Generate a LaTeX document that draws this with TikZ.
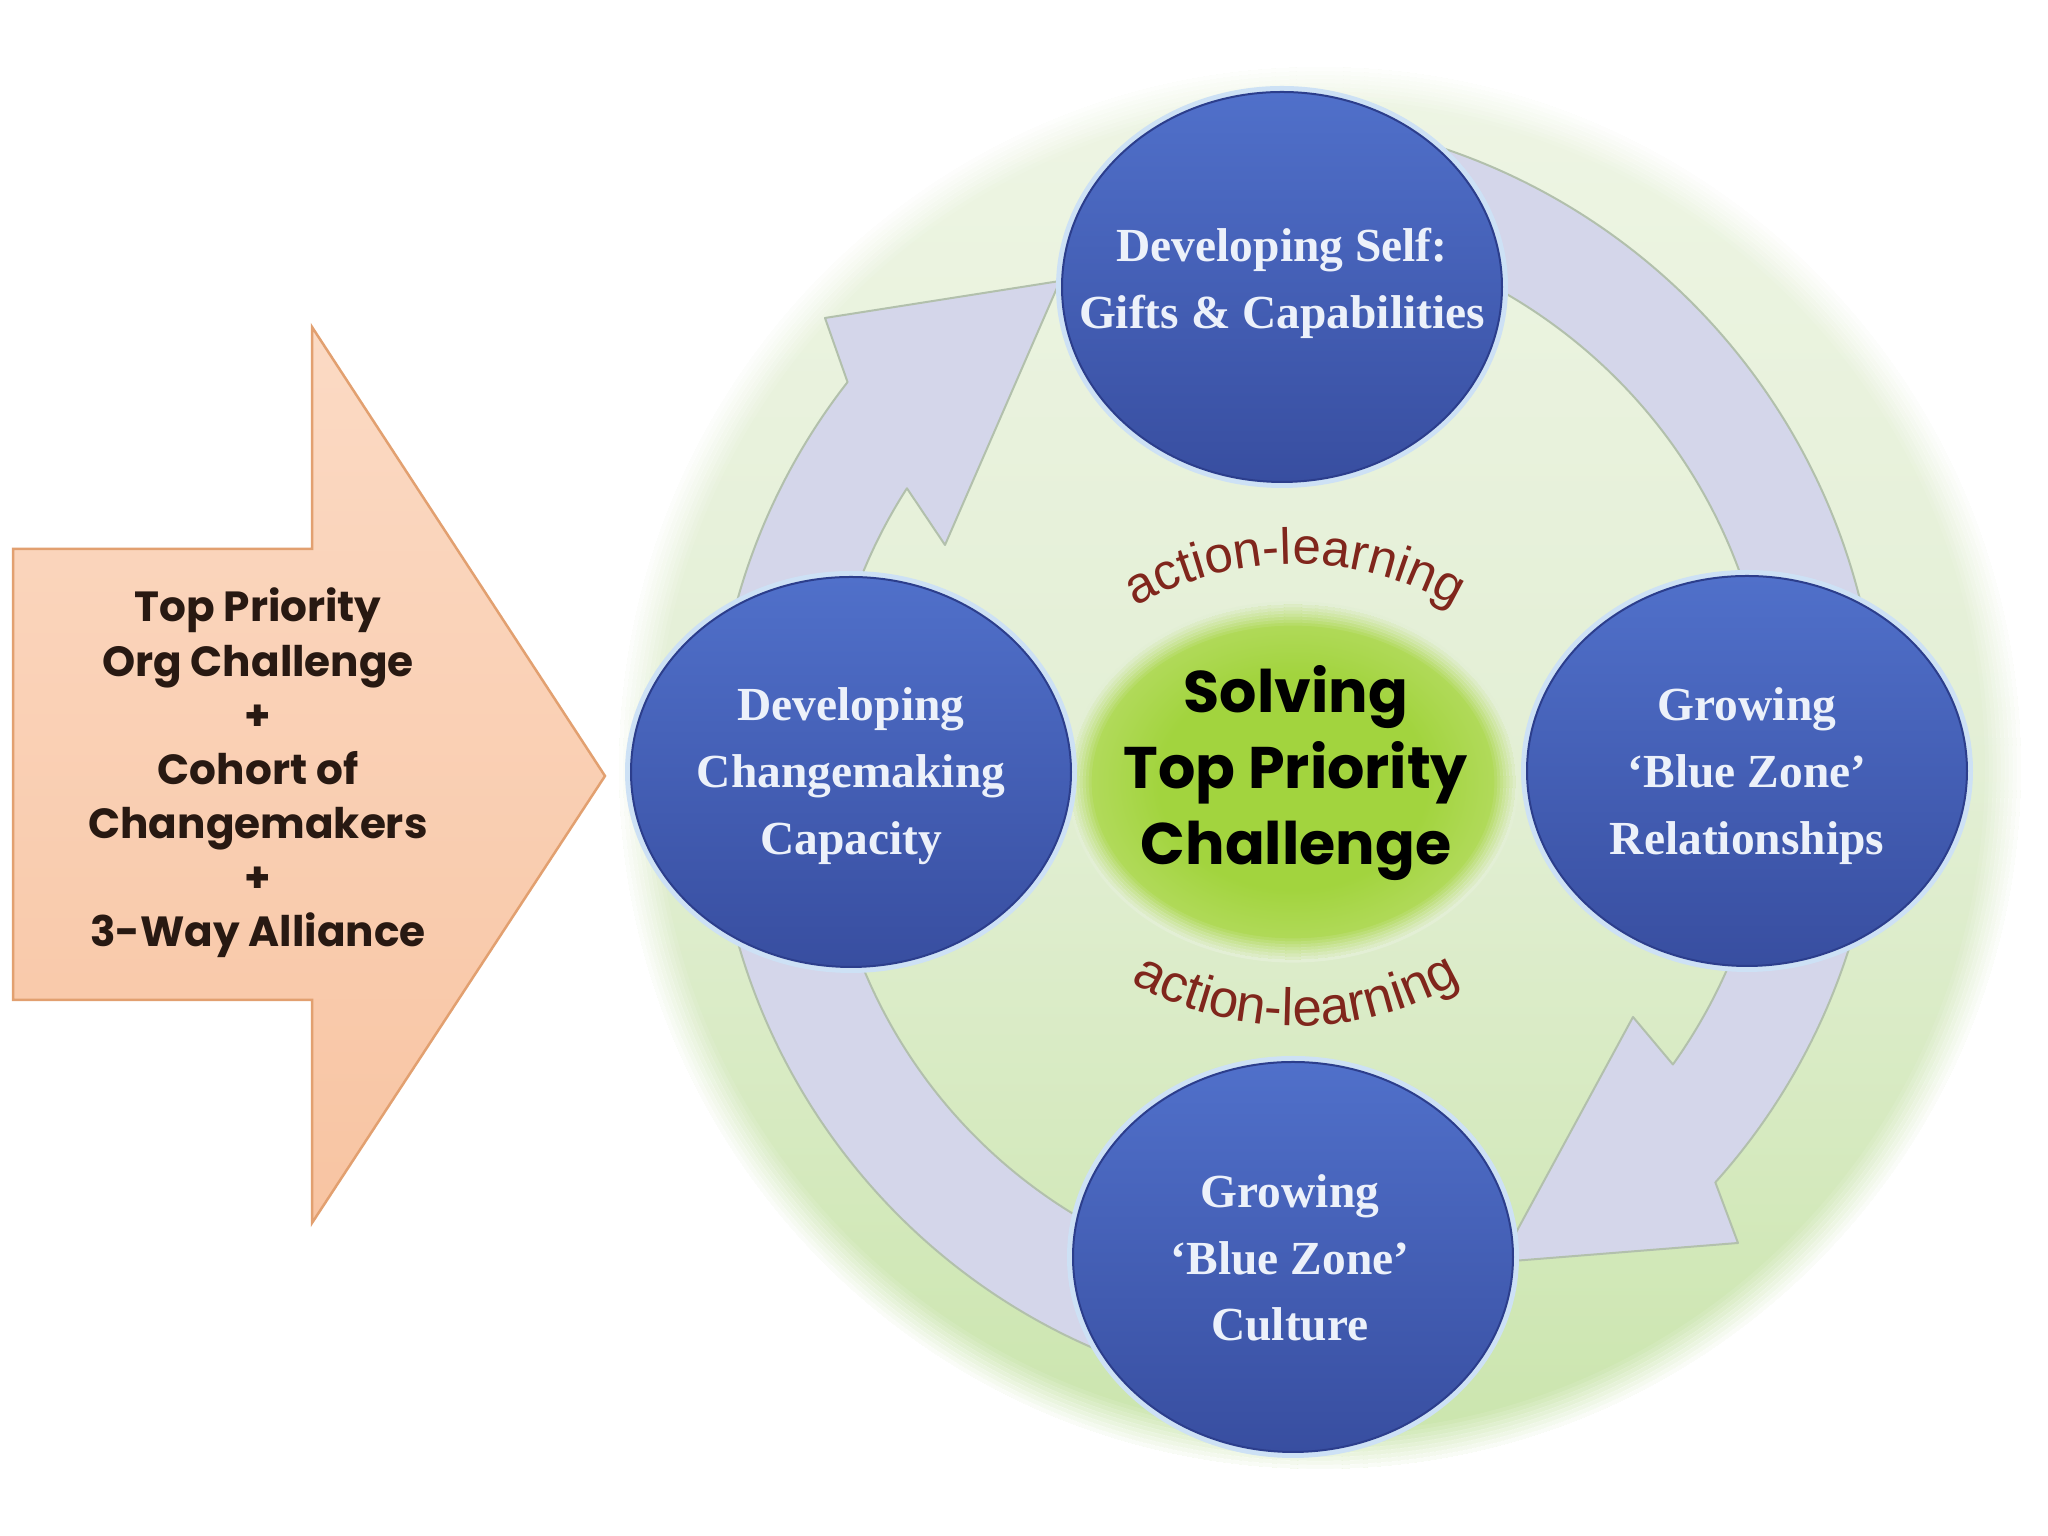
\documentclass[tikz,border=0pt]{standalone}
\usepackage{fontspec}
\usetikzlibrary{decorations.text,shadings}
\newfontfamily\gothicf{Poppins}
\newfontfamily\arialf{Liberation Sans}
\newfontfamily\serifbf{Liberation Serif}

\definecolor{diskTop}{RGB}{238,245,228}
\definecolor{diskMid}{RGB}{227,239,213}
\definecolor{diskBot}{RGB}{202,229,172}
\definecolor{lav}{RGB}{212,214,234}
\definecolor{lavLine}{RGB}{178,192,172}
\definecolor{blueTop}{RGB}{80,112,202}
\definecolor{blueBot}{RGB}{56,78,160}
\definecolor{blueRim}{RGB}{44,62,140}
\definecolor{blueGlow}{RGB}{205,225,245}
\definecolor{limeIn}{RGB}{162,212,62}
\definecolor{limeOut}{RGB}{182,220,100}
\definecolor{alred}{RGB}{128,38,28}
\definecolor{peachTop}{RGB}{251,218,196}
\definecolor{peachBot}{RGB}{248,196,162}
\definecolor{peachLine}{RGB}{226,160,112}
\definecolor{boxtext}{RGB}{40,25,18}
\definecolor{circtext}{RGB}{236,241,250}

\pgfdeclareradialshading{limeshade}{\pgfpointorigin}{color(0bp)=(limeIn); color(15bp)=(limeIn); color(25bp)=(limeOut); color(50bp)=(limeOut)}

\tikzset{
  cyclearrow/.style={fill=lav, draw=lavLine, line width=0.02cm, line join=round},
  bluedisk/.style={top color=blueTop, bottom color=blueBot, draw=blueRim, line width=0.02cm},
  blueglow/.style={fill=blueGlow},
  circtxt/.style={text=circtext, align=center, inner sep=0pt, font=\serifbf\bfseries\fontsize{13.5}{19}\selectfont},
  boxtxt/.style={text=boxtext, align=center, inner sep=0pt, font=\gothicf\bfseries\fontsize{12}{15.4}\selectfont},
  coretxt/.style={text=black, align=center, inner sep=0pt, font=\gothicf\bfseries\fontsize{16.7}{21.6}\selectfont},
  orangearrow/.style={top color=peachTop, bottom color=peachBot, draw=peachLine, line width=0.025cm, line join=miter}
}

\begin{document}
\begin{tikzpicture}
\useasboundingbox (0,0) rectangle (20.48,15.36);
\fill[white] (0,0) rectangle (20.48,15.36);

% big green disk with soft edge
\coordinate (diskC) at (13.20,7.68);
\fill[top color=diskTop, bottom color=diskBot, middle color=diskMid] (diskC) circle (7.02);
\foreach \i in {1,...,10}{
  \pgfmathsetmacro\op{\i/10}
  \draw[white, line width=0.042cm, draw opacity=\op] (diskC) circle ({6.63+0.04*\i});
}

% cycle arrows
\coordinate (Ac) at (13.44,7.66);
\coordinate (Bc) at (12.39,7.81);
\path[cyclearrow] ([shift={(262:6.3)}]Ac) arc[start angle=262, end angle=142.0, radius=6.3]
  -- (8.25,12.18) -- (10.60,12.55) -- (9.45,9.91)
  -- ([shift={(147.2:5.2)}]Ac) arc[start angle=147.2, end angle=262, radius=5.2] -- cycle;
\path[cyclearrow] ([shift={(82:6.4)}]Bc) arc[start angle=82, end angle=-41.9, radius=6.4]
  -- (17.38,2.93) -- (15.00,2.74) -- (16.33,5.19)
  -- ([shift={(-35.5:5.33)}]Bc) arc[start angle=-35.5, end angle=82, radius=5.33] -- cycle;

% centre ellipse with soft edge
\coordinate (coreC) at (12.93,7.54);
\fill[shading=limeshade] (coreC) ellipse [x radius=2.24, y radius=1.79];
\foreach \i in {1,...,8}{
  \pgfmathsetmacro\op{\i/8}
  \draw[diskMid, line width=0.032cm, draw opacity=\op] (coreC) ellipse [x radius={2.0+0.03*\i}, y radius={1.55+0.03*\i}];
}
\node[coretxt] (core) at (12.96,7.63) {Solving\\Top Priority\\Challenge};

% action-learning arcs
\coordinate (topArcC) at (12.95,6.57);
\coordinate (botArcC) at (12.96,8.40);
\path[decorate, decoration={text along path, text align=center, text color=alred,
  text={|\arialf\fontsize{14.5}{17}\selectfont|action-learning}}]
  ([shift={(150:3.15)}]topArcC) arc[start angle=150, end angle=30, radius=3.15];
\path[decorate, decoration={text along path, text align=center, text color=alred,
  text={|\arialf\fontsize{15}{17}\selectfont|action-learning}}]
  ([shift={(210:3.3)}]botArcC) arc[start angle=210, end angle=330, radius=3.3];

% blue circles
\foreach \cx/\cy in {12.82/12.49, 8.51/7.64, 17.47/7.65, 12.93/2.79}{
  \fill[blueglow] (\cx,\cy) ellipse [x radius=2.26, y radius=2.01];
  \path[bluedisk] (\cx,\cy) ellipse [x radius=2.2, y radius=1.95];
}
\node[circtxt] (self) at (12.82,12.53) {Developing Self:\\Gifts \& Capabilities};
\node[circtxt] (capacity) at (8.51,7.60) {Developing\\Changemaking\\Capacity};
\node[circtxt] (relations) at (17.47,7.60) {Growing\\‘Blue Zone’\\Relationships};
\node[circtxt] (culture) at (12.90,2.78) {Growing\\‘Blue Zone’\\Culture};

% input arrow
\path[orangearrow] (0.13,9.87) -- (3.12,9.87) -- (3.12,12.09) -- (6.05,7.60)
  -- (3.12,3.13) -- (3.12,5.36) -- (0.13,5.36) -- cycle;
\node[boxtxt] (inputs) at (2.58,7.63) {Top Priority\\Org Challenge\\+\\Cohort of\\Changemakers\\+\\3-Way Alliance};
\end{tikzpicture}
\end{document}
